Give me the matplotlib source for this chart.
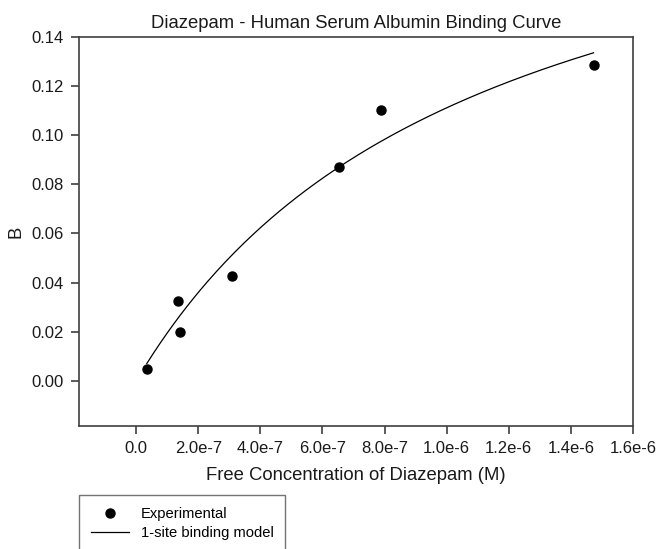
import numpy as np
import matplotlib
matplotlib.use('Agg')
from matplotlib import pyplot as plt
from matplotlib.ticker import FixedLocator, FixedFormatter

plt.rcParams['font.family'] = ['Liberation Sans', 'DejaVu Sans']

# experimental points
free_conc = [3.45e-8, 1.35e-7, 1.40e-7, 3.09e-7, 6.53e-7, 7.89e-7, 1.473e-6]
bound = [0.005, 0.0326, 0.0198, 0.0428, 0.0869, 0.1104, 0.1284]

# 1-site binding model parameters (fitted curve)
bmax = 0.2324
kd = 1.0915e-6

xticks = [0, 2e-7, 4e-7, 6e-7, 8e-7, 1e-6, 1.2e-6, 1.4e-6, 1.6e-6]
xtick_labels = ['0.0', '2.0e-7', '4.0e-7', '6.0e-7', '8.0e-7', '1.0e-6', '1.2e-6', '1.4e-6', '1.6e-6']
yticks = [0.00, 0.02, 0.04, 0.06, 0.08, 0.10, 0.12, 0.14]
ytick_labels = ['0.00', '0.02', '0.04', '0.06', '0.08', '0.10', '0.12', '0.14']

fig = plt.figure(figsize=(6.58, 5.49), dpi=100)
ax = fig.add_axes([0.120, 0.224, 0.842, 0.709])

xfit = np.linspace(min(free_conc), max(free_conc), 200)
yfit = bmax * xfit / (kd + xfit)

ax.plot(free_conc, bound, 'o', color='black', markersize=6.5, label='Experimental')
ax.plot(xfit, yfit, '-', color='black', linewidth=0.9, label='1-site binding model')

ax.set_xlim(-1.84e-7, 1.6e-6)
ax.set_ylim(-0.0183, 0.14)
ax.xaxis.set_major_locator(FixedLocator(xticks))
ax.xaxis.set_major_formatter(FixedFormatter(xtick_labels))
ax.yaxis.set_major_locator(FixedLocator(yticks))
ax.yaxis.set_major_formatter(FixedFormatter(ytick_labels))

for s in ax.spines.values():
    s.set_color('#404040')
    s.set_linewidth(1.2)
ax.tick_params(direction='out', length=6, width=1.2, color='#404040',
               labelsize=12, labelcolor='#1a1a1a', pad=5)

ax.set_title('Diazepam - Human Serum Albumin Binding Curve', fontsize=13.3, pad=6, color='#1a1a1a')
ax.set_xlabel('Free Concentration of Diazepam (M)', fontsize=13.3, labelpad=8, color='#1a1a1a')
ax.set_ylabel('B', fontsize=13.3, labelpad=5, color='#1a1a1a')

leg = ax.legend(loc='upper left', bbox_to_anchor=(79 / 658, 1 - 495 / 549),
                bbox_transform=fig.transFigure, fontsize=10.6, frameon=True,
                fancybox=False, edgecolor='#505050', borderpad=0.8,
                handlelength=2.6, handletextpad=0.8, borderaxespad=0,
                labelspacing=0.35)
leg.get_frame().set_linewidth(1.0)

plt.savefig('out.png', dpi=100)
